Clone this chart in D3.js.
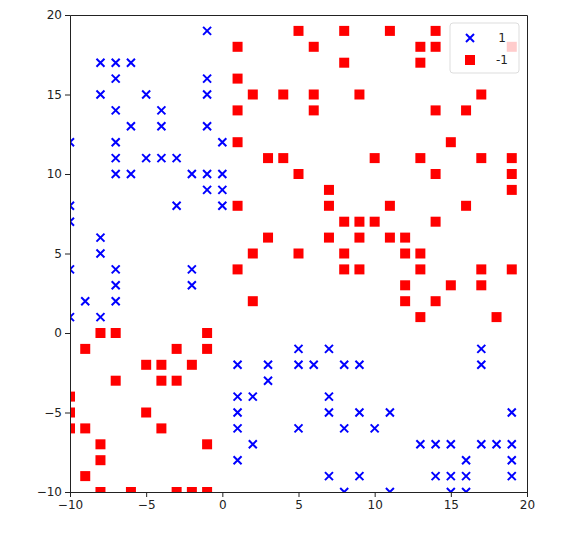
<!DOCTYPE html>
<html>
<head>
<meta charset="utf-8">
<script src="https://cdn.jsdelivr.net/npm/d3@7"></script>
<style>
  body { margin: 0; background: #fff; }
  svg { font-family: "DejaVu Sans", sans-serif; }
</style>
</head>
<body>
<svg id="chart" width="588" height="535"></svg>
<script>
// class 1 points (blue crosses)
var posX = [-1, -8, -7, -6, -7, -1, -8, -5, -1, -7, -4, -6, -4, -1, -10, -7, 0, -7, -5, -4, -3,
  -7, -6, -2, -1, 0, -1, 0, -10, -3, 0, -10, -8, -8, -10, -7, -2, -7, -2, -9, -7, -10, -8,
  1, 3, 5, 5, 6, 7, 8, 9, 3, 1, 2, 7, 1, 7, 9, 11, 1, 5, 8, 10, 2, 1, 7, 9, 8, 11,
  17, 17, 19, 13, 14, 15, 17, 18, 19, 16, 19, 14, 15, 16, 19, 15, 16];
var posY = [19, 17, 17, 17, 16, 16, 15, 15, 15, 14, 14, 13, 13, 13, 12, 12, 12, 11, 11, 11, 11,
  10, 10, 10, 10, 10, 9, 9, 8, 8, 8, 7, 6, 5, 4, 4, 4, 3, 3, 2, 2, 1, 1,
  -2, -2, -1, -2, -2, -1, -2, -2, -3, -4, -4, -4, -5, -5, -5, -5, -6, -6, -6, -6, -7, -8, -9, -9, -10, -10,
  -1, -2, -5, -7, -7, -7, -7, -7, -7, -8, -8, -9, -9, -9, -9, -10, -10];

// class -1 points (red squares)
var negX = [5, 8, 11, 14, 1, 6, 13, 14, 19, 8, 13, 1, 2, 4, 6, 9, 17, 1, 6, 14, 16, 1, 15,
  3, 4, 10, 13, 17, 19, 5, 14, 19, 7, 19, 1, 7, 11, 16, 8, 9, 10, 14, 3, 7, 9, 11, 12,
  2, 5, 8, 12, 13, 1, 8, 9, 13, 17, 19, 12, 15, 17, 2, 12, 14, 13, 18,
  -8, -7, -1, -9, -3, -1, -5, -4, -2, -7, -4, -3, -10, -10, -5, -10, -9, -4,
  -8, -1, -8, -9, -8, -6, -3, -2, -1];
var negY = [19, 19, 19, 19, 18, 18, 18, 18, 18, 17, 17, 16, 15, 15, 15, 15, 15, 14, 14, 14, 14, 12, 12,
  11, 11, 11, 11, 11, 11, 10, 10, 10, 9, 9, 8, 8, 8, 8, 7, 7, 7, 7, 6, 6, 6, 6, 6,
  5, 5, 5, 5, 5, 4, 4, 4, 4, 4, 4, 3, 3, 3, 2, 2, 2, 1, 1,
  0, 0, 0, -1, -1, -1, -2, -2, -2, -3, -3, -3, -4, -5, -5, -6, -6, -6,
  -7, -7, -8, -9, -10, -10, -10, -10, -10];

var ticks = [-10, -5, 0, 5, 10, 15, 20];
var labels = ["1", "-1"];

var margin = {left: 70, right: 61, top: 15, bottom: 43};
var width = 588 - margin.left - margin.right,
    height = 535 - margin.top - margin.bottom;

var x = d3.scaleLinear().domain([-10, 20]).range([0, width]),
    y = d3.scaleLinear().domain([-10, 20]).range([height, 0]);

var svg = d3.select("#chart")
  .append("g")
    .attr("transform", "translate(" + margin.left + "," + margin.top + ")");

svg.append("clipPath").attr("id", "clip")
  .append("rect").attr("width", width).attr("height", height);

var plot = svg.append("g").attr("clip-path", "url(#clip)");

var s = 5;
function cross(px, py){
  return "M" + (px - s + 1) + "," + (py - s + 1) + "L" + (px + s - 1) + "," + (py + s - 1) +
         "M" + (px - s + 1) + "," + (py + s - 1) + "L" + (px + s - 1) + "," + (py - s + 1);
}

//Add the crosses
plot.selectAll(".pos")
  .data(d3.range(posX.length))
  .enter().append("path")
    .attr("class", "pos")
    .attr("d", function(i){ return cross(x(posX[i]), y(posY[i])); })
    .style("stroke", "blue")
    .style("stroke-width", "2")
    .style("fill", "none");

//Add the squares
plot.selectAll(".neg")
  .data(d3.range(negX.length))
  .enter().append("rect")
    .attr("class", "neg")
    .attr("x", function(i){ return x(negX[i]) - s; })
    .attr("y", function(i){ return y(negY[i]) - s; })
    .attr("width", 2 * s)
    .attr("height", 2 * s)
    .style("fill", "red");

//Axes
svg.append("g")
  .attr("transform", "translate(0," + height + ")")
  .call(d3.axisBottom(x).tickValues(ticks).tickSize(5).tickPadding(3).tickFormat(d3.format("")));
svg.append("g")
  .call(d3.axisLeft(y).tickValues(ticks).tickSize(5).tickPadding(3).tickFormat(d3.format("")));
svg.append("g")
  .attr("transform", "translate(" + width + ",0)")
  .call(d3.axisRight(y).tickValues([]).tickSizeOuter(0));
svg.append("g")
  .call(d3.axisTop(x).tickValues([]).tickSizeOuter(0));

svg.selectAll(".tick text")
  .style("font-family", "DejaVu Sans")
  .style("font-size", "12px")
  .style("fill", "#222");
svg.selectAll(".domain").style("stroke", "#222").style("stroke-width", "1");
svg.selectAll(".tick line").style("stroke", "#222");

//Legend
var legend = svg.append("g").attr("transform", "translate(" + (width - 77) + ",8)");
legend.append("rect")
  .attr("width", 69).attr("height", 50)
  .attr("rx", 3)
  .style("fill", "rgba(255,255,255,0.8)")
  .style("stroke", "#ddd");
legend.append("path")
  .attr("d", cross(20, 15))
  .style("stroke", "blue").style("stroke-width", "2").style("fill", "none");
legend.append("rect")
  .attr("x", 20 - s).attr("y", 37 - s).attr("width", 2 * s).attr("height", 2 * s)
  .style("fill", "red");
legend.selectAll(".lab")
  .data(labels)
  .enter().append("text")
    .attr("x", 52)
    .attr("y", function(d, i){ return 15 + i * 22; })
    .attr("dy", "0.35em")
    .style("text-anchor", "middle")
    .style("font-size", "12px")
    .style("fill", "#222")
    .text(function(d){ return d; });
</script>
</body>
</html>
